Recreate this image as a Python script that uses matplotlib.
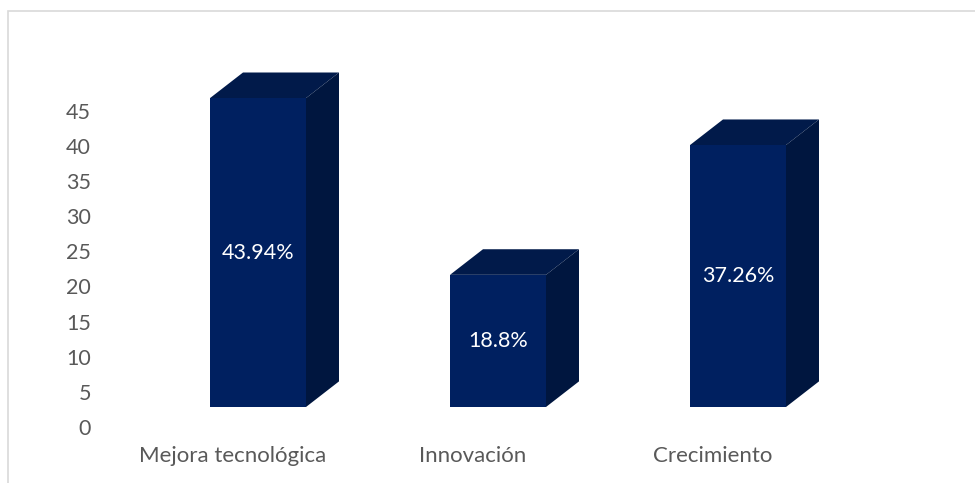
import matplotlib.pyplot as plt
import matplotlib.transforms as mtransforms
from matplotlib.patches import Polygon, Rectangle
import numpy as np

# datos
categorias = ["Mejora tecnológica", "Innovación", "Crecimiento"]
valores = [43.94, 18.8, 37.26]
etiquetas = ["43.94%", "18.8%", "37.26%"]
yticks = list(range(0, 50, 5))

plt.rcParams['font.family'] = ['Lato', 'DejaVu Sans']

c_frente = "#002060"
c_arriba = "#011a4a"
c_lado = "#00163f"
c_texto = "#595959"

W, H = 975, 483
fig = plt.figure(figsize=(W / 100, H / 100), dpi=100)

# ejes: izquierda en 100px, abajo en 440px desde arriba
ax = fig.add_axes([100 / W, 43 / H, 875 / W, 440 / H])
px_x = 240.0   # px por categoria
px_y = 7.03    # px por unidad
ax.set_xlim((100 - 258) / px_x, (975 - 258) / px_x)
ax.set_ylim(-33 / px_y, 407 / px_y)

x = np.arange(len(categorias))
ancho = 0.4
dx = 33 / px_x     # profundidad 3D
dy = 25.6 / px_y

ax.bar(x, valores, width=ancho, color=c_frente, zorder=3)
for xi, v in zip(x, valores):
    izq, der = xi - ancho / 2, xi + ancho / 2
    # cara superior
    ax.add_patch(Polygon([(izq, v), (der, v), (der + dx, v + dy), (izq + dx, v + dy)],
                         closed=True, facecolor=c_arriba, edgecolor="none", zorder=2))
    # cara lateral
    ax.add_patch(Polygon([(der, 0), (der + dx, dy), (der + dx, v + dy), (der, v)],
                         closed=True, facecolor=c_lado, edgecolor="none", zorder=2))

for xi, v, t in zip(x, valores, etiquetas):
    ax.text(xi, v / 2, t, ha="center", va="center", color="white", fontsize=15.5, zorder=4)

for s in ax.spines.values():
    s.set_visible(False)
ax.set_yticks(yticks)
ax.set_xticks(x)
ax.set_xticklabels(categorias)
ax.tick_params(axis="both", length=0, labelsize=15.5, labelcolor=c_texto)
ax.tick_params(axis="x", labelsize=16, pad=4.5)
ax.tick_params(axis="y", pad=6.5)

# desplazamiento de etiquetas (efecto 3D de Excel)
off_y = mtransforms.ScaledTranslation(0, -0.20, fig.dpi_scale_trans)
for lb in ax.get_yticklabels():
    lb.set_transform(lb.get_transform() + off_y)
off_x = mtransforms.ScaledTranslation(-0.25, 0, fig.dpi_scale_trans)
for lb in ax.get_xticklabels():
    lb.set_transform(lb.get_transform() + off_x)

# borde del grafico
fig.patches.append(Rectangle((8 / W, -0.1), 1.2, 1.1 - 11 / H, transform=fig.transFigure,
                             fill=False, edgecolor="#d9d9d9", linewidth=1.2))

fig.savefig("out.png", dpi=100)
